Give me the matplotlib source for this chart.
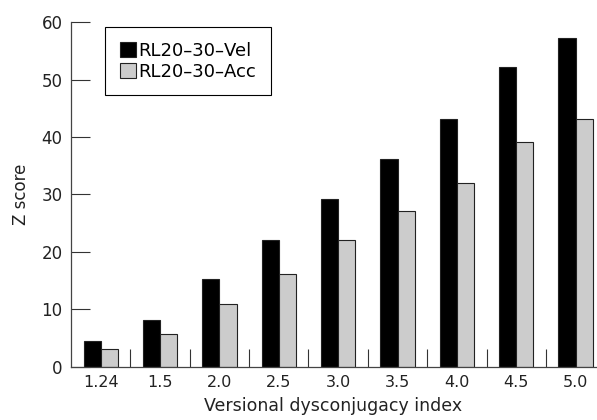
import matplotlib.pyplot as plt
import numpy as np
from matplotlib.ticker import FixedLocator

categories = ["1.24", "1.5", "2.0", "2.5", "3.0", "3.5", "4.0", "4.5", "5.0"]
vel = [4.4, 8.2, 15.2, 22.1, 29.2, 36.2, 43.2, 52.2, 57.2]
acc = [3.0, 5.7, 11.0, 16.1, 22.1, 27.1, 32.0, 39.1, 43.2]

plt.rcParams["font.family"] = "DejaVu Sans"

fig = plt.figure(figsize=(5.97, 4.2), dpi=100)
ax = fig.add_axes([0.119, 0.127, 0.879, 0.82])

x = np.arange(len(categories))
w = 0.29
ax.bar(x - w / 2, vel, w, color="black", edgecolor="#222222", linewidth=0.8,
       label="RL20–30–Vel")
ax.bar(x + w / 2, acc, w, color="#cccccc", edgecolor="#222222", linewidth=0.8,
       label="RL20–30–Acc")

ax.set_xlim(-0.5, 8.34)
ax.set_ylim(0, 60)
ax.set_yticks(np.arange(0, 61, 10))
ax.set_xticks(x)
ax.set_xticklabels(categories)
ax.xaxis.set_minor_locator(FixedLocator(np.arange(0.5, 8, 1)))
ax.tick_params(axis="x", which="major", length=0, pad=6, labelsize=11.5, colors="#222222")
ax.tick_params(axis="x", which="minor", direction="in", length=13, width=0.8, color="#333333")
ax.tick_params(axis="y", direction="in", length=14, width=0.8, pad=6, labelsize=12,
               colors="#222222", color="#333333")

for side in ("top", "right"):
    ax.spines[side].set_visible(False)
for side in ("left", "bottom"):
    ax.spines[side].set_linewidth(0.9)
    ax.spines[side].set_color("#444444")

ax.set_xlabel("Versional dysconjugacy index", fontsize=12.5, color="#222222", labelpad=5)
ax.set_ylabel("Z score", fontsize=12, color="#222222", labelpad=8)

leg = ax.legend(loc="upper left", bbox_to_anchor=(0.065, 0.985), fontsize=13,
                fancybox=False, edgecolor="black", framealpha=1,
                handlelength=0.9, handleheight=0.9, handletextpad=0.15,
                borderpad=0.8, labelspacing=0.15, borderaxespad=0)
leg.get_frame().set_linewidth(0.8)

fig.savefig("out.png", dpi=100)
